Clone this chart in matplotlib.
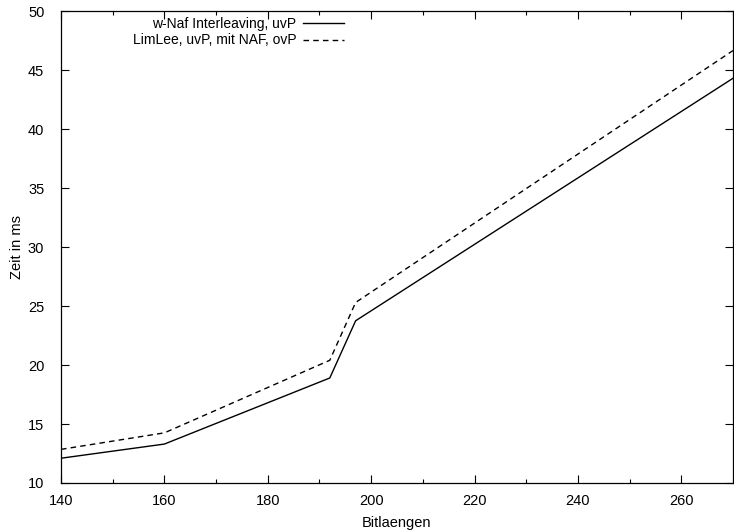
import matplotlib.pyplot as plt
from matplotlib.ticker import MultipleLocator

plt.rcParams['font.family'] = ['Liberation Sans', 'DejaVu Sans']

# Bitlaengen und Zeiten (ms)
bits = [140, 160, 192, 197, 270]
wnaf = [12.1, 13.3, 18.9, 23.75, 44.3]
limlee = [12.85, 14.25, 20.4, 25.3, 46.65]

fig = plt.figure(figsize=(7.34, 5.31), dpi=100)
ax = fig.add_axes([0.0831, 0.0904, 0.9155, 0.8888])

ax.plot(bits, wnaf, color='black', linewidth=1.0, label='w-Naf Interleaving, uvP')
ax.plot(bits, limlee, color='black', linewidth=1.0, linestyle=(0, (4, 3)),
        label='LimLee, uvP, mit NAF, ovP')

ax.set_xlim(140, 270)
ax.set_ylim(10, 50)
ax.xaxis.set_major_locator(MultipleLocator(20))
ax.xaxis.set_minor_locator(MultipleLocator(10))
ax.yaxis.set_major_locator(MultipleLocator(5))
ax.tick_params(axis='both', which='major', direction='in', length=6, width=0.8,
               top=True, right=True, labelsize=10.5)
ax.tick_params(axis='x', which='major', pad=8)
ax.tick_params(axis='y', which='major', pad=12)
ax.tick_params(axis='x', which='minor', direction='in', length=3, width=0.8, top=True)
for s in ax.spines.values():
    s.set_linewidth(0.9)

ax.set_xlabel('Bitlaengen', fontsize=10.5, labelpad=6)
ax.set_ylabel('Zeit in ms', fontsize=10.5, labelpad=3)

leg = ax.legend(loc='upper right', bbox_to_anchor=(0.43, 1.0), frameon=False,
                markerfirst=False, fontsize=10, handlelength=3.0,
                handletextpad=0.45, labelspacing=0.2, borderaxespad=0.0)
for t in leg.get_texts():
    t.set_ha('right')
leg._legend_box.align = 'right'

fig.savefig('out.png', dpi=100)
